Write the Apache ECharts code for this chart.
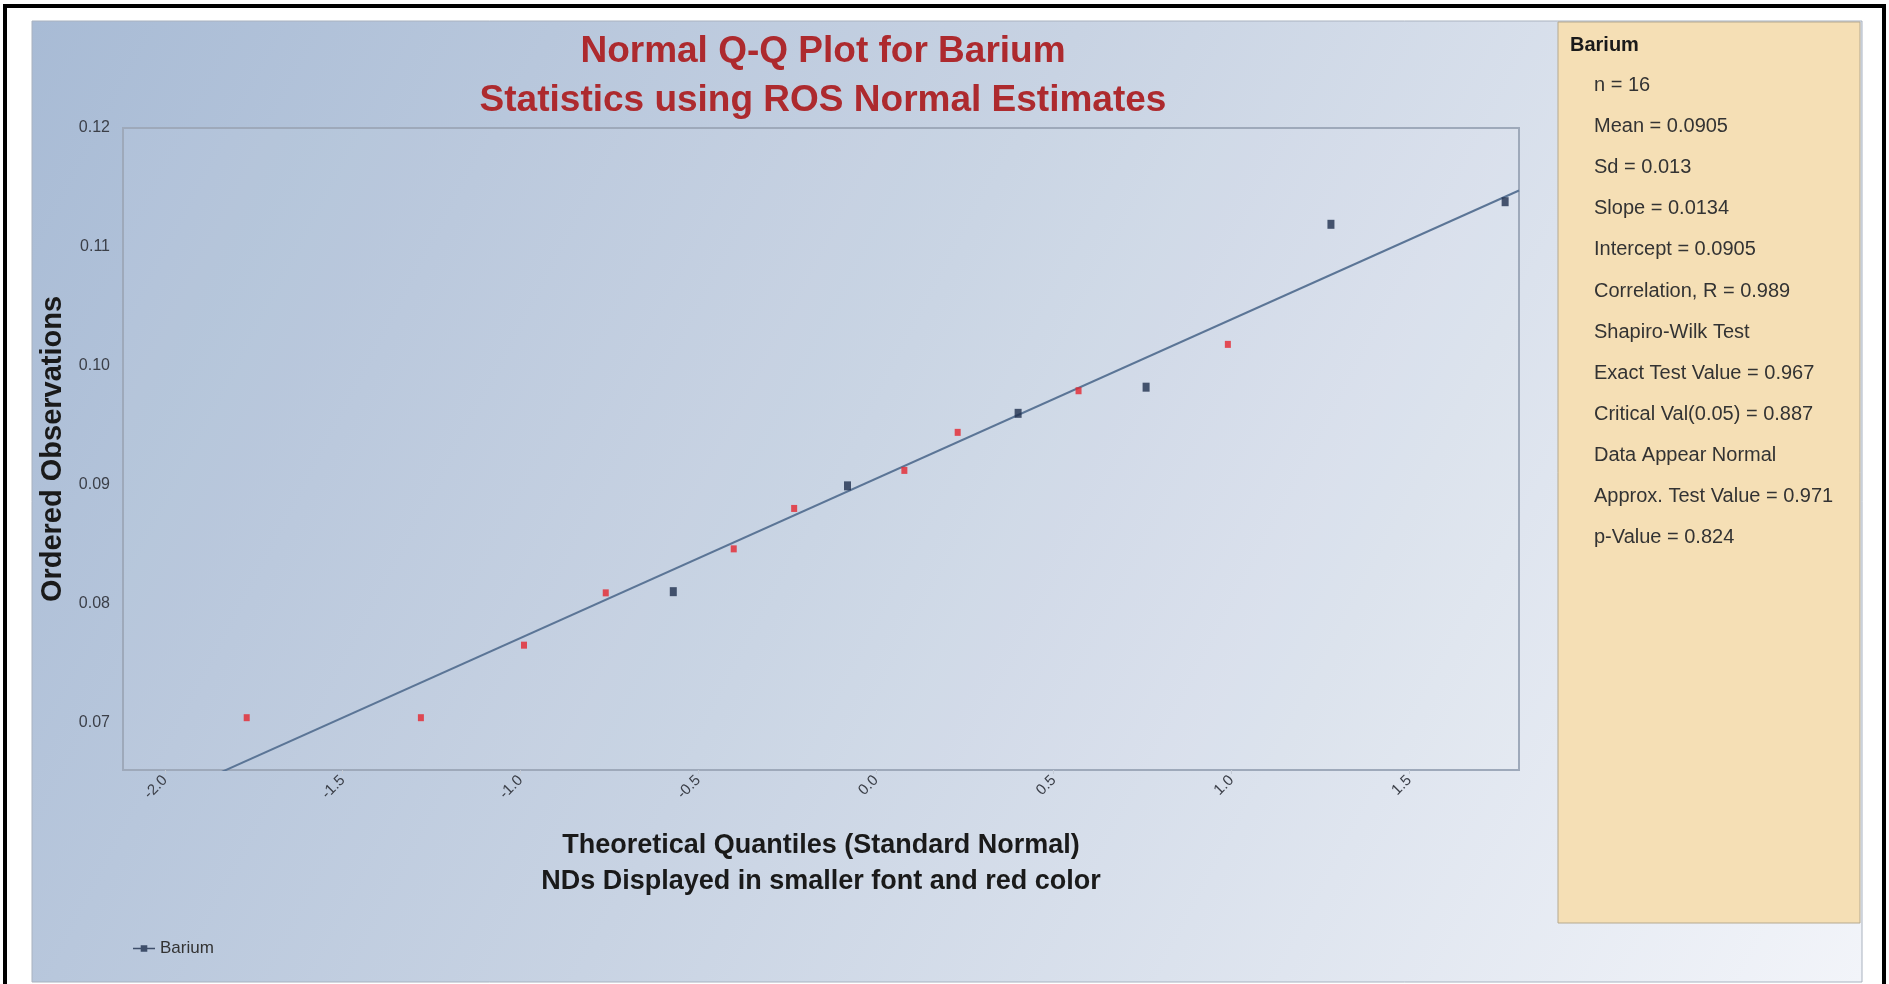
<!DOCTYPE html>
<html>
<head>
<meta charset="utf-8">
<title>Normal Q-Q Plot for Barium</title>
<script src="https://cdn.jsdelivr.net/npm/echarts@6/dist/echarts.min.js"></script>
<style>
  html, body { margin: 0; padding: 0; background: #fff; }
  #chart { width: 1889px; height: 984px; }
</style>
</head>
<body>
<div id="chart"></div>
<script>
// theoretical quantiles (x) and ordered observations (y)
var quantiles = [-1.77, -1.28, -0.99, -0.76, -0.57, -0.40, -0.23, -0.08,
                  0.08, 0.23, 0.40, 0.57, 0.76, 0.99, 1.28, 1.77];
var observed = [0.0704, 0.0704, 0.0765, 0.0809, 0.0810, 0.0846, 0.0880, 0.0899,
                0.0912, 0.0944, 0.0960, 0.0979, 0.0982, 0.1018, 0.1119, 0.1138];
// 1 = non-detect (red, smaller)
var isND = [1, 1, 1, 1, 0, 1, 1, 0, 1, 1, 0, 1, 0, 1, 0, 0];

var slope = 0.0134;
var intercept = 0.0905;

var xTicks = [-2.0, -1.5, -1.0, -0.5, 0.0, 0.5, 1.0, 1.5];
var yTicks = [0.07, 0.08, 0.09, 0.10, 0.11, 0.12];

var statsTitle = 'Barium';
var statsLines = [
    'n = 16',
    'Mean = 0.0905',
    'Sd = 0.013',
    'Slope = 0.0134',
    'Intercept = 0.0905',
    'Correlation, R = 0.989',
    'Shapiro-Wilk Test',
    'Exact Test Value = 0.967',
    'Critical Val(0.05) = 0.887',
    'Data Appear Normal',
    'Approx. Test Value = 0.971',
    'p-Value = 0.824'
];

var xMin = -2.118, xMax = 1.809;
var yMin = 0.066, yMax = 0.12;

var SANS = "'Liberation Sans', Arial, sans-serif";

// split points into detected / ND
var detected = [], nds = [];
for (var i = 0; i < quantiles.length; i++) {
    if (isND[i]) nds.push([quantiles[i], observed[i]]);
    else detected.push([quantiles[i], observed[i]]);
}
// fitted line over the whole x range (clipped by the grid)
var fitLine = [xMin, xMax].map(function (x) { return [x, intercept + slope * x]; });

var chart = echarts.init(document.getElementById('chart'));

var option = {
    backgroundColor: '#ffffff',
    animation: false,
    title: {
        text: 'Normal Q-Q Plot for Barium\nStatistics using ROS Normal Estimates',
        left: 818,
        top: 22,
        textAlign: 'center',
        textStyle: {
            fontFamily: SANS,
            fontWeight: 'bold',
            fontSize: 37,
            lineHeight: 49,
            color: '#ad2a2e'
        }
    },
    legend: {
        data: [{ name: 'Barium', icon: 'path://M0,3.4 L20,3.4 L20,4.6 L0,4.6 Z M7,1 L13,1 L13,7 L7,7 Z' }],
        left: 128,
        top: 935,
        itemWidth: 22,
        itemHeight: 8,
        itemGap: 6,
        textStyle: { fontFamily: SANS, fontSize: 17, color: '#333' }
    },
    grid: {
        left: 123,
        top: 128,
        right: 370,
        bottom: 214,
        show: true,
        borderColor: '#9ea9ba',
        borderWidth: 2,
        backgroundColor: 'rgba(255,255,255,0.05)'
    },
    xAxis: {
        type: 'value',
        min: xMin,
        max: xMax,
        name: 'Theoretical Quantiles (Standard Normal)\nNDs Displayed in smaller font and red color',
        nameLocation: 'middle',
        nameGap: 58,
        nameTextStyle: {
            fontFamily: SANS,
            fontWeight: 'bold',
            fontSize: 27,
            lineHeight: 36,
            color: '#1a1a1a'
        },
        axisLine: { show: false },
        splitLine: { show: false },
        axisTick: {
            show: true,
            customValues: xTicks,
            length: 4,
            lineStyle: { color: '#c4cbd6' }
        },
        axisLabel: {
            customValues: xTicks,
            rotate: 45,
            margin: 8,
            fontFamily: SANS,
            fontSize: 15,
            color: '#3b3f48',
            formatter: function (v) { return v.toFixed(1); }
        }
    },
    yAxis: {
        type: 'value',
        min: yMin,
        max: yMax,
        name: 'Ordered Observations',
        nameLocation: 'middle',
        nameGap: 52,
        nameTextStyle: {
            fontFamily: SANS,
            fontWeight: 'bold',
            fontSize: 29,
            color: '#1a1a1a'
        },
        axisLine: { show: false },
        splitLine: { show: false },
        axisTick: { show: false },
        axisLabel: {
            customValues: yTicks,
            margin: 13,
            fontFamily: SANS,
            fontSize: 16,
            color: '#3b3f48',
            formatter: function (v) { return v.toFixed(2); }
        }
    },
    graphic: [
        {   // outer frame
            type: 'rect',
            z: -20,
            shape: { x: 5, y: 6, width: 1879, height: 1000 },
            style: { fill: '#ffffff', stroke: '#000000', lineWidth: 4 }
        },
        {   // chart background gradient
            type: 'rect',
            z: -10,
            shape: { x: 32, y: 21, width: 1830, height: 961 },
            style: {
                stroke: '#a9b2bf',
                lineWidth: 1,
                fill: new echarts.graphic.LinearGradient(0, 0, 1, 1, [
                    { offset: 0, color: '#a8bbd5' },
                    { offset: 0.45, color: '#c8d3e3' },
                    { offset: 1, color: '#f2f4f9' }
                ])
            }
        },
        {   // stats panel
            type: 'rect',
            z: -5,
            shape: { x: 1558, y: 22, width: 302, height: 901 },
            style: { fill: '#f5dfb5', stroke: '#b5a98f', lineWidth: 1 }
        },
        {
            type: 'text',
            z: 5,
            x: 1570,
            y: 45,
            style: {
                text: statsTitle,
                fontFamily: SANS,
                fontWeight: 'bold',
                fontSize: 20,
                fill: '#1a1a1a',
                verticalAlign: 'middle'
            }
        },
        {
            type: 'text',
            z: 5,
            x: 1594,
            y: 65,
            style: {
                text: statsLines.join('\n'),
                fontFamily: SANS,
                fontSize: 20,
                lineHeight: 41.1,
                fill: '#333333',
                verticalAlign: 'top'
            }
        }
    ],
    series: [
        {
            name: 'Fit',
            type: 'line',
            data: fitLine,
            symbol: 'none',
            clip: true,
            silent: true,
            lineStyle: { color: '#5b7596', width: 2 },
            z: 1
        },
        {
            name: 'Barium ND',
            type: 'scatter',
            data: nds,
            symbol: 'rect',
            symbolSize: [6, 7],
            itemStyle: { color: '#e5262e' },
            z: 3
        },
        {
            name: 'Barium',
            type: 'scatter',
            data: detected,
            symbol: 'rect',
            symbolSize: [7, 9],
            itemStyle: { color: '#1f2f4d' },
            z: 3
        }
    ]
};

chart.setOption(option);
</script>
</body>
</html>
